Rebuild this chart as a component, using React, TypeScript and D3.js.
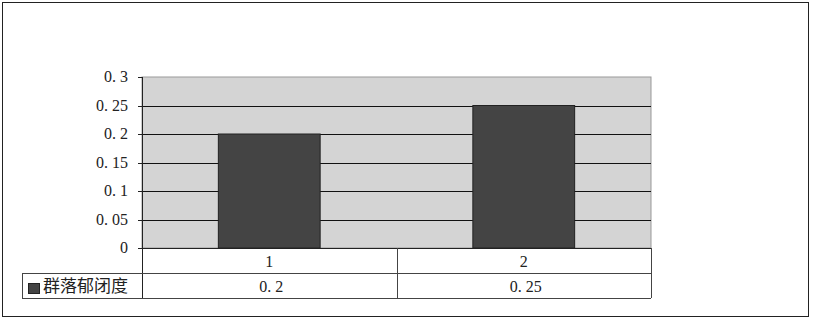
import React from "react";
import * as d3 from "d3";

const categories = ["1", "2"];
const values = [0.2, 0.25];
const seriesName = "群落郁闭度";
const yTicks = [0, 0.05, 0.1, 0.15, 0.2, 0.25, 0.3];

const W = 814, H = 323;
const plot = { left: 142, right: 651, top: 77, bottom: 248 };
const rowH = 25;

export default function App() {
  const x = d3.scaleBand<string>().domain(categories).range([plot.left, plot.right]).paddingInner(0.6).paddingOuter(0.3);
  const band = d3.scaleBand<string>().domain(categories).range([plot.left, plot.right]);
  const y = d3.scaleLinear().domain([0, 0.3]).range([plot.bottom, plot.top]);
  const numFont = "'Liberation Serif', 'DejaVu Serif', serif";
  const cjkFont = "'Noto Sans CJK SC', sans-serif";
  const fmt = (v: number) => {
    const s = String(v);
    const i = s.indexOf(".");
    if (i < 0) return [s, ""];
    return [s.slice(0, i + 1), s.slice(i + 1)];
  };
  const r1 = plot.bottom + rowH;
  const r2 = r1 + 25;
  const legendLeft = 22;
  return (
    <svg width={W} height={H} style={{ position: "absolute", left: 0, top: 0 }}>
      <rect x={2.5} y={2.5} width={806} height={314} fill="#fff" stroke="#222" strokeWidth={1} />
      <rect x={plot.left} y={plot.top} width={plot.right - plot.left} height={plot.bottom - plot.top} fill="#d4d4d4" stroke="#999" />
      {yTicks.filter(t => t > 0 && t < 0.3).map(t => (
        <line key={t} x1={plot.left} x2={plot.right} y1={Math.round(y(t)) + 0.5} y2={Math.round(y(t)) + 0.5} stroke="#111" />
      ))}
      {categories.map((c, i) => (
        <rect key={c} x={x(c)} y={y(values[i])} width={x.bandwidth()} height={plot.bottom - y(values[i])} fill="#444" stroke="#222" />
      ))}
      <line x1={plot.left + 0.5} x2={plot.left + 0.5} y1={plot.top} y2={r2} stroke="#222" />
      {yTicks.map(t => (
        <g key={t}>
          <line x1={plot.left - 4} x2={plot.left} y1={Math.round(y(t)) + 0.5} y2={Math.round(y(t)) + 0.5} stroke="#222" />
          <text x={128} y={y(t) + 5} textAnchor="end" fontFamily={numFont} fontSize={16} fill="#222">
            {fmt(t)[0]}<tspan dx={4}>{fmt(t)[1]}</tspan>
          </text>
        </g>
      ))}
      {/* data table */}
      <line x1={plot.left} x2={plot.right} y1={plot.bottom + 0.5} y2={plot.bottom + 0.5} stroke="#222" />
      <line x1={legendLeft} x2={plot.right} y1={r1 + 0.5} y2={r1 + 0.5} stroke="#444" />
      <line x1={legendLeft} x2={plot.right} y1={r2 + 0.5} y2={r2 + 0.5} stroke="#444" />
      <line x1={legendLeft + 0.5} x2={legendLeft + 0.5} y1={r1} y2={r2} stroke="#444" />
      <line x1={plot.right + 0.5} x2={plot.right + 0.5} y1={plot.bottom} y2={r2} stroke="#444" />
      {categories.slice(1).map(c => (
        <line key={c} x1={Math.round(band(c)!) + 0.5} x2={Math.round(band(c)!) + 0.5} y1={plot.bottom} y2={r2} stroke="#444" />
      ))}
      {categories.map((c, i) => (
        <g key={c}>
          <text x={band(c)! + band.bandwidth() / 2} y={plot.bottom + 19} textAnchor="middle" fontFamily={numFont} fontSize={16} fill="#222">{c}</text>
          <text x={band(c)! + band.bandwidth() / 2 + 2} y={r1 + 19} textAnchor="middle" fontFamily={numFont} fontSize={16} fill="#222">
            {fmt(values[i])[0]}<tspan dx={4}>{fmt(values[i])[1]}</tspan>
          </text>
        </g>
      ))}
      <rect x={28.5} y={283.5} width={11} height={10} fill="#444" stroke="#222" />
      <text x={43} y={r1 + 19} fontFamily={cjkFont} fontSize={17} fill="#222">{seriesName}</text>
    </svg>
  );
}
